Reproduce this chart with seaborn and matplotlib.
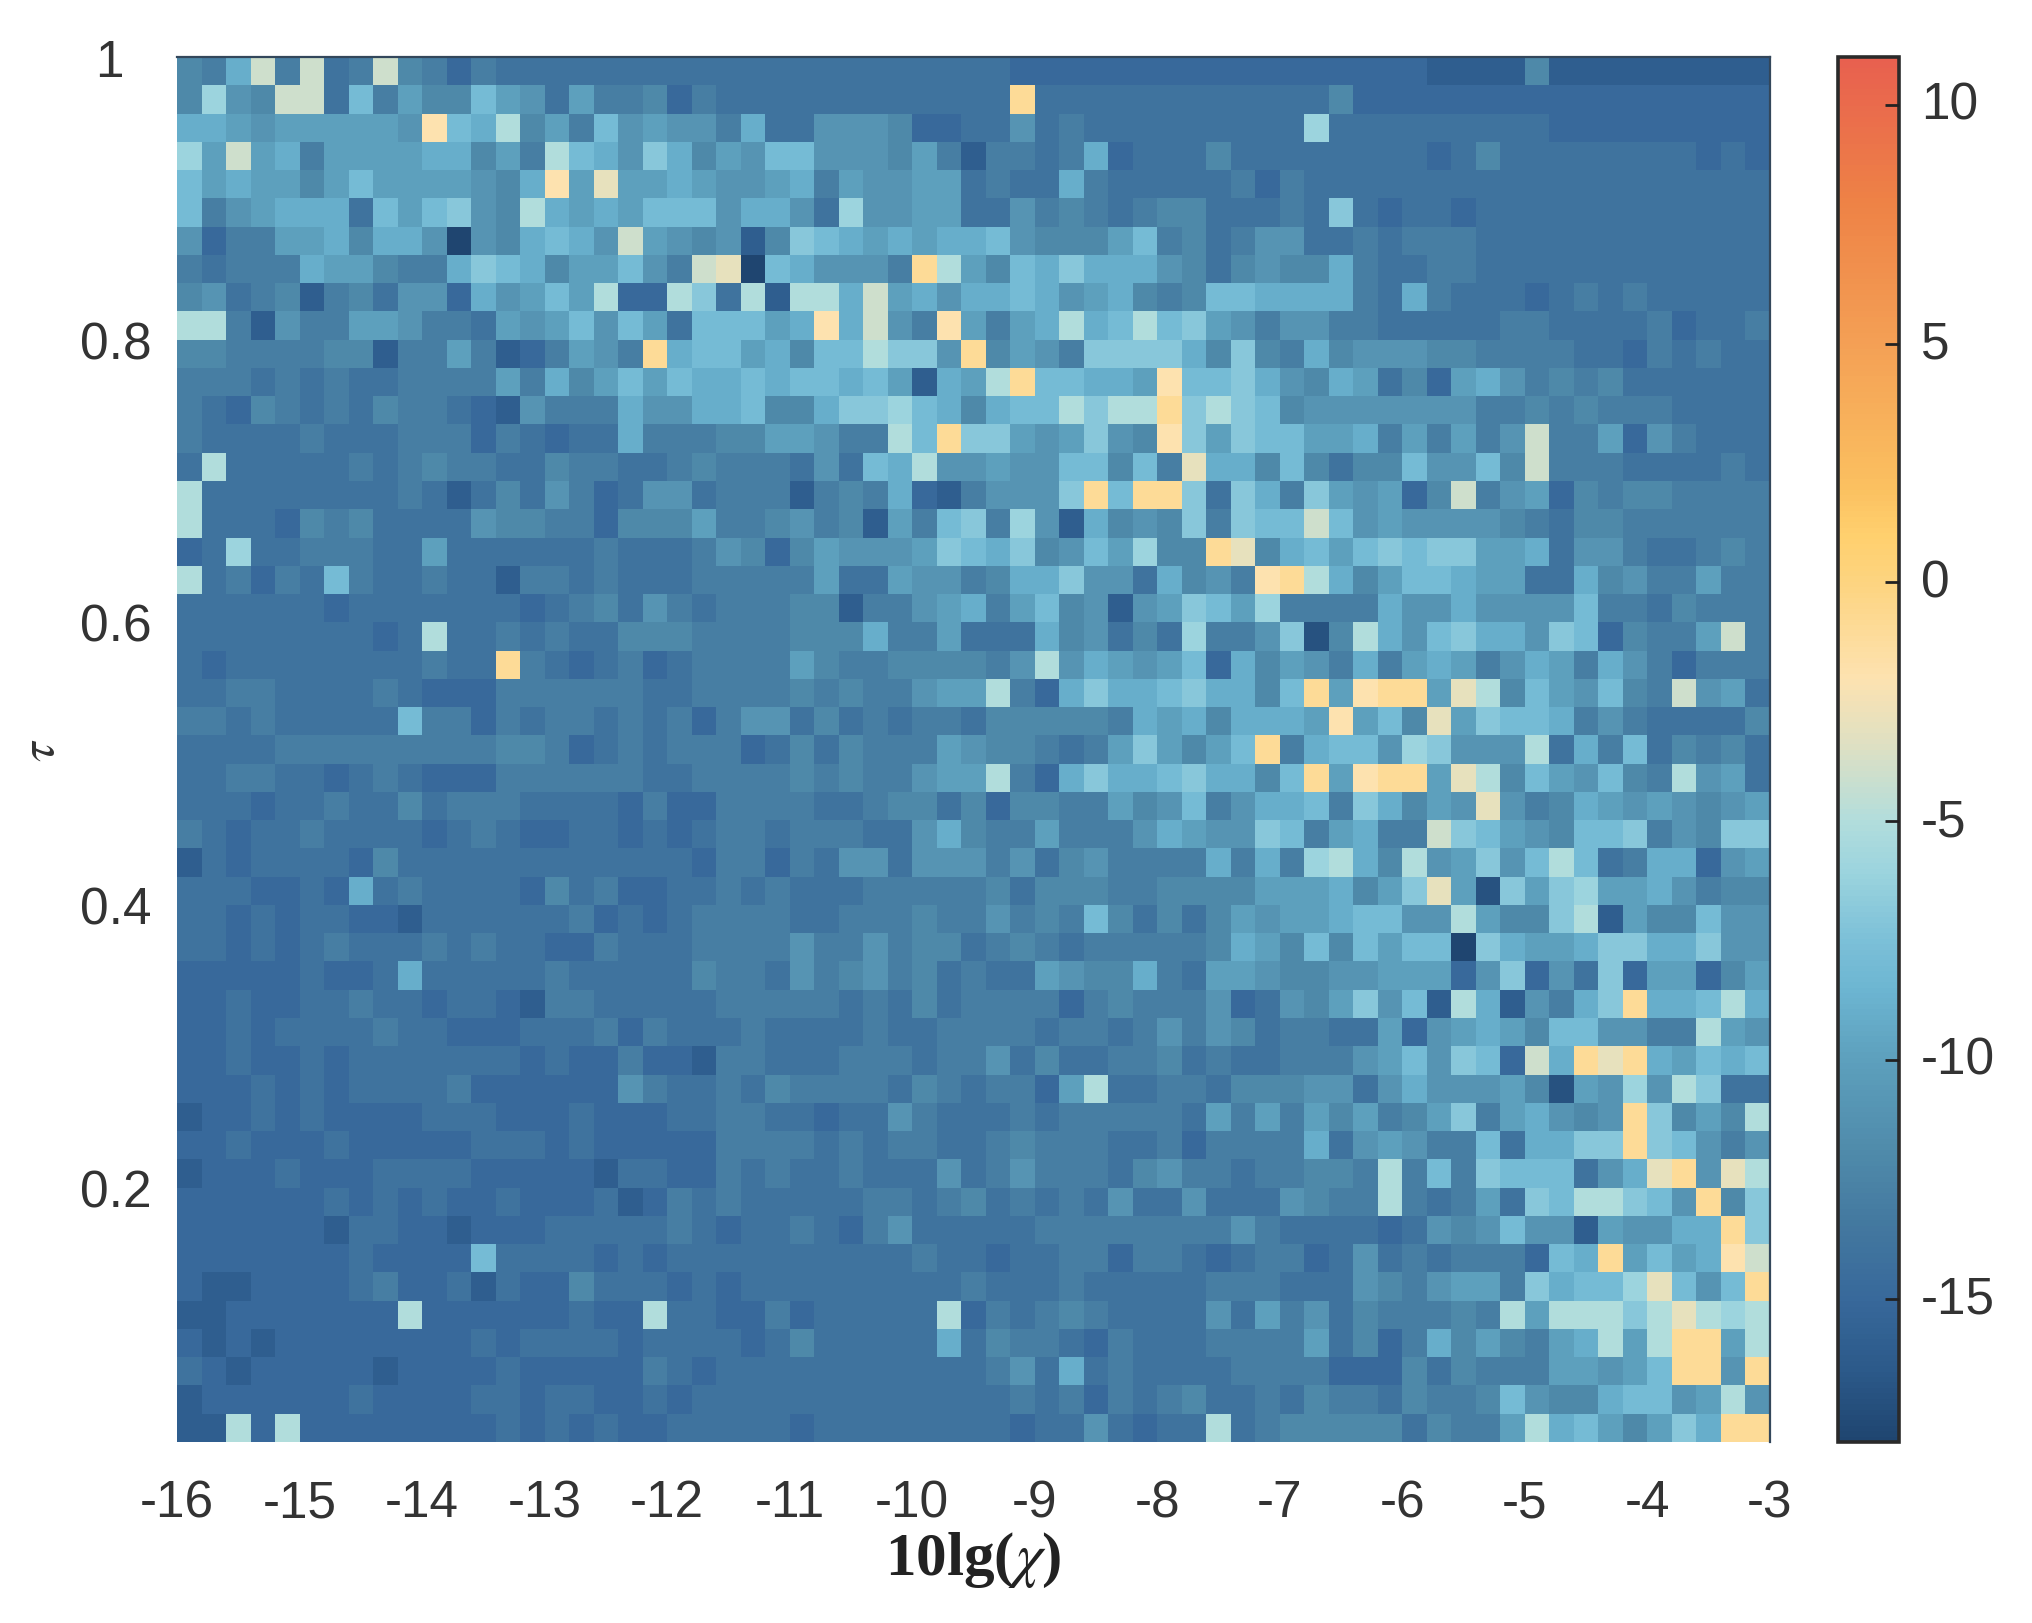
import numpy as np
import pandas as pd
import matplotlib
matplotlib.use("Agg")
import matplotlib.pyplot as plt
from matplotlib.colors import LinearSegmentedColormap
from matplotlib.transforms import ScaledTranslation
import seaborn as sns

# values are stored without the minus sign, every cell is below 0
# columns 0-21 (10lg(chi) from -16)
cells_left = [
[12,13,9,4,13,4,14,13,4,12,13,15,13,14,14,14,14,14,14,14,14,14],
[12,6,11,12,4,4,14,8,13,10,12,12,8,10,11,14,10,13,13,12,15,13],
[9,9,10,11,10,10,10,10,10,11,2,8,9,5,12,10,13,8,11,10,11,11],
[6,10,4,10,9,13,10,10,10,10,9,9,12,10,13,5,8,9,11,7,9,12],
[8,10,9,10,10,12,10,8,10,10,10,10,11,12,9,2,10,3,10,10,9,10],
[8,13,11,10,9,9,9,14,8,10,8,7,11,12,5,9,10,9,10,8,8,8],
[11,15,13,13,10,10,9,12,9,9,11,18,11,12,9,8,9,11,4,10,11,12],
[13,14,13,13,13,9,10,10,12,13,13,9,7,8,9,12,10,10,8,11,13,4],
[12,11,14,13,12,16,13,12,14,11,11,15,9,11,10,8,10,5,15,15,5,7],
[5,5,13,16,11,13,13,10,10,11,13,13,14,10,11,10,8,11,8,10,14,8],
[12,12,13,13,13,13,12,12,16,13,13,10,13,16,15,13,10,11,13,1,9,8],
[13,13,13,14,13,14,13,14,14,13,13,13,13,10,13,9,12,10,8,10,8,9],
[13,14,15,12,13,14,13,14,12,13,13,14,15,16,11,13,13,13,9,11,11,9],
[13,14,14,14,14,13,14,14,14,13,13,13,15,13,14,15,14,14,9,13,13,13],
[14,5,14,14,14,14,14,13,14,13,12,13,13,14,14,12,13,13,14,14,13,12],
[5,14,14,14,14,14,14,14,14,13,14,16,14,12,14,11,13,15,14,11,11,14],
[5,14,14,14,15,12,13,12,14,14,14,14,11,12,12,13,13,15,12,12,12,10],
[15,14,6,14,14,13,13,13,14,14,10,14,14,14,14,14,14,13,14,14,14,13],
[5,14,13,15,13,14,8,13,14,14,13,14,14,16,13,13,14,13,14,14,14,13],
[14,14,14,14,14,14,15,14,14,14,14,14,14,14,15,14,13,12,14,11,13,14],
[14,14,14,14,14,14,14,14,15,14,5,14,14,13,14,13,14,14,12,12,12,13],
[14,15,14,14,14,14,14,14,14,14,13,14,14,1,13,14,15,14,13,15,14,13],
[14,14,13,13,14,14,14,14,13,14,15,15,15,13,13,13,13,13,13,14,14,13],
[13,13,14,13,14,14,14,14,14,8,13,13,15,13,14,13,13,14,13,14,13,15],
[14,14,14,14,13,13,13,13,13,13,13,13,13,12,12,13,15,14,13,14,13,13],
[14,14,13,13,14,14,15,14,13,14,15,15,15,13,13,13,13,13,13,14,14,13],
[14,14,14,15,14,14,13,14,14,12,14,13,13,13,14,14,14,14,15,13,15,15],
[13,14,15,14,14,13,14,14,14,14,15,14,13,14,15,15,14,14,15,14,15,14],
[16,14,15,14,14,14,14,15,12,14,14,14,14,14,14,14,14,14,14,14,14,15],
[14,14,14,15,15,14,15,9,14,13,14,14,14,14,15,12,14,13,15,15,14,14],
[14,14,15,14,15,14,14,15,15,16,14,14,14,14,14,14,13,15,14,15,14,13],
[14,14,15,14,15,14,13,14,14,14,13,14,13,14,14,15,15,13,14,14,14,13],
[15,15,15,15,15,14,15,15,14,9,14,14,14,14,14,13,14,14,14,14,14,12],
[15,15,14,15,15,14,14,13,14,14,15,14,14,15,16,13,13,14,14,14,14,14],
[15,15,14,15,14,14,14,14,13,14,14,15,15,15,14,14,14,13,15,13,14,14],
[15,15,14,15,15,14,15,14,14,14,14,14,14,14,15,14,15,15,13,15,15,16],
[15,15,15,14,15,14,15,14,14,14,14,13,15,15,15,15,15,15,11,13,14,14],
[16,15,15,14,15,14,15,15,15,15,14,14,14,15,15,15,14,15,15,15,14,14],
[15,15,14,15,15,15,14,15,15,15,15,15,14,14,14,15,14,15,15,15,15,15],
[16,15,15,15,14,15,15,15,14,14,14,14,15,15,15,15,15,16,14,14,15,15],
[15,15,15,15,15,15,14,15,14,15,14,15,15,14,15,15,15,14,16,15,13,14],
[15,15,15,15,15,15,16,14,14,15,15,16,15,15,15,14,14,14,14,14,13,14],
[15,15,15,15,15,15,15,14,15,15,15,15,8,14,14,14,14,15,14,15,14,14],
[15,16,16,15,15,15,15,14,13,15,15,14,16,14,15,15,12,14,14,14,15,14],
[16,16,15,15,15,15,15,15,15,5,15,15,15,15,15,15,14,15,15,5,14,14],
[15,16,15,16,15,15,15,15,15,15,15,15,14,15,14,14,14,14,15,14,14,14],
[14,15,16,15,15,15,15,15,16,15,15,15,15,14,15,15,15,15,15,13,14,15],
[16,15,15,15,15,15,15,14,15,15,15,15,14,14,15,14,14,15,15,14,15,14],
[16,16,5,15,5,15,15,15,15,15,15,15,15,14,15,14,15,14,15,15,14,14],
]

# columns 22-43
cells_mid = [
[14,14,14,14,14,14,14,14,14,14,14,14,15,15,15,15,15,15,15,15,15,15],
[14,14,14,14,14,14,14,14,14,14,14,14,1,14,14,14,14,14,14,14,14,14],
[13,9,14,14,11,11,11,12,15,15,14,14,11,14,13,14,14,14,14,14,14,14],
[10,11,8,8,11,11,11,12,10,13,16,13,13,14,13,9,15,14,14,14,12,14],
[11,11,10,9,13,10,11,11,10,10,14,13,14,14,9,13,14,14,14,14,14,13],
[11,9,9,11,14,6,11,11,10,10,14,14,11,13,12,13,14,13,12,12,14,14],
[11,16,12,7,8,9,10,9,10,9,9,8,11,12,12,12,10,8,13,12,14,13],
[3,18,8,9,11,11,11,13,1,5,10,12,8,9,7,9,9,9,11,12,14,12],
[14,5,16,5,5,9,4,10,9,11,9,9,8,9,11,10,9,12,13,12,8,8],
[8,8,10,9,2,9,4,11,13,2,10,13,10,9,5,9,8,5,8,7,10,11],
[8,10,9,12,8,8,5,7,7,11,1,12,10,11,13,7,7,7,7,9,12,7],
[9,8,9,8,8,9,8,10,16,9,10,5,1,8,8,9,9,10,2,8,8,7],
[9,8,12,12,9,7,7,6,8,9,12,9,8,8,5,7,5,5,1,7,5,7],
[12,12,10,10,11,13,13,5,8,1,7,7,10,11,10,7,11,12,2,7,10,7],
[13,13,13,14,11,14,8,9,5,11,11,10,11,11,8,8,12,8,13,3,9,9],
[13,13,13,16,13,12,13,9,15,16,13,11,11,11,7,1,8,1,1,7,14,7],
[13,13,12,11,13,12,16,10,13,8,7,13,6,11,16,9,12,11,12,7,13,7],
[11,12,15,12,10,11,11,11,10,7,8,9,7,12,11,8,10,6,12,12,1,3],
[13,13,13,13,10,14,14,10,11,11,13,12,9,9,7,11,11,14,9,12,11,13],
[13,13,13,12,12,16,13,13,11,10,9,13,10,8,12,11,16,11,10,7,8,10],
[13,13,13,12,12,12,9,13,13,10,14,14,14,9,12,11,14,12,14,6,13,13],
[13,13,13,10,12,13,13,12,12,12,12,13,11,5,11,9,10,11,10,8,15,9],
[13,13,13,12,13,12,13,13,11,10,10,5,13,15,9,7,9,9,8,7,9,9],
[13,11,11,14,12,14,13,14,13,13,14,12,12,12,12,12,13,9,10,9,12,9],
[13,15,14,12,14,12,13,13,13,10,11,12,12,13,14,13,10,7,10,12,10,8],
[13,13,13,12,13,12,13,13,11,10,10,5,13,15,9,7,9,9,8,7,9,9],
[13,13,13,13,14,14,13,12,12,14,12,15,12,12,13,13,10,12,11,8,13,11],
[13,13,14,13,13,13,14,14,11,9,12,13,13,10,13,13,13,11,9,10,11,11],
[13,13,15,13,14,11,11,14,11,11,11,13,11,14,12,11,13,13,13,13,9,13],
[13,14,13,14,14,14,13,13,13,13,13,12,14,12,12,12,13,13,12,12,12,12],
[13,13,13,14,14,13,13,13,12,13,13,11,13,12,13,8,12,14,12,14,12,10],
[13,13,13,11,13,13,11,13,12,12,14,13,12,13,14,13,13,13,13,13,12,9],
[13,13,14,11,13,12,11,13,12,14,13,14,14,10,11,12,12,9,13,14,10,10],
[13,13,13,13,13,14,13,14,12,14,13,13,13,13,15,13,12,13,13,13,11,15],
[14,13,14,14,14,14,13,14,14,13,13,13,13,14,13,13,14,13,11,13,11,12],
[13,13,14,14,14,13,13,13,14,13,13,11,14,12,14,14,13,13,12,14,13,14],
[13,14,12,13,13,13,13,14,12,13,14,13,13,15,10,5,14,14,13,13,14,12],
[13,13,14,14,15,14,14,11,13,14,14,14,13,14,13,13,13,13,13,14,10,13],
[13,13,13,13,14,13,14,13,13,14,14,13,12,13,13,13,14,14,13,15,13,13],
[13,14,13,14,14,13,14,14,14,11,14,13,11,13,13,13,14,12,11,13,13,14],
[13,14,14,14,14,14,13,13,14,13,12,14,13,14,13,14,11,14,14,11,14,14],
[15,14,14,13,14,15,13,11,14,14,14,14,14,13,13,13,13,13,13,13,13,11],
[14,14,14,14,14,14,14,14,13,14,14,15,14,14,13,13,15,13,13,14,15,14],
[15,14,14,14,14,14,14,14,14,14,13,14,14,14,13,14,14,14,14,14,13,13],
[15,15,13,15,14,14,14,14,14,5,15,13,14,13,12,13,14,14,14,14,11,14],
[14,15,14,12,14,14,14,14,14,9,14,12,13,13,14,15,13,14,14,14,13,13],
[14,14,14,14,14,14,14,14,14,14,14,13,11,14,9,14,13,14,14,14,14,13],
[14,14,14,14,14,14,14,14,14,14,14,14,13,14,13,15,13,14,13,12,14,14],
[14,14,14,15,14,14,14,14,14,14,14,14,15,14,14,11,14,15,14,14,5,14],
]

# columns 44-64 (up to -3)
cells_right = [
[15,15,15,15,15,15,15,16,16,16,16,12,16,16,16,16,16,16,16,16,16],
[14,14,14,12,15,15,15,15,15,15,15,15,15,15,15,15,15,15,15,15,15],
[14,14,6,14,14,14,14,14,14,14,14,14,15,15,15,15,15,15,15,15,15],
[14,14,14,14,14,14,14,15,14,12,14,14,14,14,14,14,14,14,15,14,15],
[15,13,14,14,14,14,14,14,14,14,14,14,14,14,14,14,14,14,14,14,14],
[14,13,14,7,14,15,14,14,15,14,14,14,14,14,14,14,14,14,14,14,14],
[11,11,14,14,13,14,13,13,13,14,14,14,14,14,14,14,14,14,14,14,14],
[11,12,12,9,13,14,14,13,13,14,14,14,14,14,14,14,14,14,14,14,14],
[9,9,9,9,13,14,9,13,14,14,14,15,14,13,14,13,14,14,14,14,14],
[13,11,11,13,13,14,14,14,14,14,13,13,14,14,14,14,13,15,14,14,13],
[12,13,9,12,11,11,11,12,12,13,13,13,13,14,14,15,13,14,13,14,14],
[9,11,12,9,10,14,12,15,10,9,11,13,12,13,12,14,14,14,14,14,14],
[8,12,11,11,11,11,11,11,11,13,13,12,13,12,13,13,13,14,14,14,14],
[8,8,10,10,9,13,10,13,10,13,11,4,13,13,10,15,11,13,14,14,14],
[12,8,12,14,12,12,8,11,11,8,12,4,13,13,13,14,14,14,14,13,14],
[9,13,7,10,11,10,15,12,4,13,11,10,15,12,13,12,12,13,13,13,13],
[8,8,4,8,11,10,11,11,11,11,12,13,14,12,12,13,13,13,13,13,13],
[12,9,8,10,8,7,8,7,7,10,10,9,14,11,11,13,14,14,13,12,13],
[2,1,5,9,12,10,8,8,9,10,10,14,14,9,12,11,13,13,10,13,13],
[6,13,13,13,13,9,11,11,9,11,11,11,11,8,13,13,14,12,13,13,13],
[11,7,17,12,5,9,11,8,7,9,9,11,7,8,15,12,13,13,10,4,13],
[12,10,11,13,9,13,10,9,10,13,11,9,10,13,9,11,13,15,13,13,13],
[12,8,1,10,2,1,1,10,3,5,12,8,10,11,8,12,13,4,11,10,14],
[9,9,10,2,10,8,12,3,10,7,8,8,9,13,11,13,14,14,14,14,12],
[1,13,9,8,8,11,6,7,11,11,11,5,14,9,13,8,14,12,13,12,14],
[12,8,1,10,2,1,1,10,3,5,12,8,10,11,8,12,13,5,11,10,14],
[9,9,8,13,7,9,12,10,11,3,11,13,12,9,10,11,10,11,12,11,10],
[7,8,13,10,9,13,13,4,7,8,10,11,12,8,8,7,13,11,12,7,7],
[9,13,6,5,9,12,5,11,10,7,11,8,5,8,14,13,9,9,15,11,10],
[10,10,10,9,12,10,7,3,10,17,7,10,7,6,10,10,9,11,13,12,12],
[11,10,10,9,8,8,11,11,5,10,12,12,7,5,16,10,12,12,8,11,11],
[10,12,8,12,8,10,8,8,18,7,9,10,10,9,7,7,9,9,7,11,11],
[11,12,12,11,11,10,10,10,15,11,7,15,11,14,7,15,10,10,15,12,10],
[14,11,12,10,7,11,8,16,5,9,16,11,13,9,7,1,9,9,8,5,9],
[14,13,13,14,14,10,15,11,10,9,10,12,8,8,11,11,13,13,5,10,11],
[14,13,13,13,11,10,8,11,7,8,15,4,9,1,3,1,9,10,8,9,8],
[12,12,11,11,14,11,9,11,11,11,10,12,17,10,11,6,11,5,7,14,14],
[10,13,10,12,10,13,12,10,7,13,10,9,11,12,11,1,7,12,10,12,5],
[13,13,9,14,11,10,11,13,13,8,14,9,9,7,7,1,7,8,11,13,11],
[13,13,12,12,13,5,13,8,13,7,8,8,8,14,11,9,3,1,11,3,5],
[14,11,12,13,13,5,13,14,13,10,14,7,8,5,5,7,8,11,1,12,7],
[13,14,14,14,14,15,14,11,12,11,8,11,11,16,10,11,11,9,9,1,7],
[13,13,15,14,11,14,13,14,13,13,13,15,8,9,1,10,8,10,9,2,4],
[13,14,14,14,11,12,13,11,10,10,13,7,9,8,8,6,3,8,11,8,1],
[10,13,11,14,12,13,13,13,12,13,5,10,5,5,5,7,5,3,5,6,5],
[13,13,10,14,12,15,13,9,12,10,12,13,10,9,5,10,5,1,1,10,5],
[13,13,13,15,15,15,12,14,12,13,13,13,10,10,11,10,8,1,1,11,1],
[13,14,12,13,13,14,12,13,13,12,8,11,12,12,9,8,8,11,10,5,11],
[13,12,12,12,12,12,14,12,13,13,10,5,9,8,10,12,10,7,9,1,1],
]

x_tick_labels = [-16, -15, -14, -13, -12, -11, -10, -9, -8, -7, -6, -5, -4, -3]
y_tick_labels = ["1", "0.8", "0.6", "0.4", "0.2"]
cbar_ticks = [-15, -10, -5, 0, 5, 10]
color_vmin = -18
color_vmax = 11
color_stops = [-18, -16.5, -15, -13.5, -12, -10, -8.5, -7.5, -6, -5, -3.5, -2, 0, 1, 2, 5, 8, 11]
color_hex = ["#1f4570", "#2c5a8a", "#38699b", "#43789f", "#4f8aaa", "#5da0bd", "#6db6d2", "#7cc0d8",
             "#9dd5de", "#b2dddc", "#dce0c4", "#fde2b0", "#fdd480", "#ffd06e", "#fbc060", "#f4a055",
             "#ee8246", "#e8604f"]

for name, block, n in [("left", cells_left, 22), ("mid", cells_mid, 22), ("right", cells_right, 21)]:
    bad = [i for i, r in enumerate(block) if len(r) != n]
    if bad or len(block) != 49:
        raise ValueError(f"{name}: {len(block)} rows, bad rows {bad}")

values = -np.hstack([np.array(cells_left), np.array(cells_mid), np.array(cells_right)], dtype=float)
df = pd.DataFrame(values)

sns.set_theme(style="white")
plt.rcParams["font.family"] = ["Liberation Sans", "DejaVu Sans"]
plt.rcParams["axes.unicode_minus"] = False
plt.rcParams["mathtext.fontset"] = "stix"

pos = [(s - color_vmin) / (color_vmax - color_vmin) for s in color_stops]
cmap = LinearSegmentedColormap.from_list("snr", list(zip(pos, color_hex)), N=256)

W, H = 2033, 1624
fig = plt.figure(figsize=(W / 100, H / 100), dpi=100)
ax = fig.add_axes([177 / W, 1 - 1443 / H, 1593 / W, 1385 / H])
cax = fig.add_axes([1838 / W, 1 - 1443 / H, 61 / W, 1385 / H])

sns.heatmap(df, vmin=color_vmin, vmax=color_vmax, cmap=cmap, ax=ax, cbar_ax=cax, square=False)

# 0.2 per column, 0.02 per row
ax.set_xticks([(v - x_tick_labels[0]) / 0.2 for v in x_tick_labels])
ax.set_xticklabels([str(v) for v in x_tick_labels], rotation=0, fontsize=37, color="#333333")
ax.set_yticks([(1 - float(v)) / 0.02 for v in y_tick_labels])
ax.set_yticklabels(y_tick_labels, rotation=0, fontsize=37, color="#333333")
ax.tick_params(axis="y", length=0, pad=18)
ax.tick_params(axis="x", length=0, pad=26)

for side in ["top", "right"]:
    ax.spines[side].set_visible(True)
    ax.spines[side].set_color("#33475b")
    ax.spines[side].set_linewidth(1.6)

ax.set_xlabel(r"10lg($\chi$)", fontsize=44, fontweight="bold", family="Liberation Serif", color="#222222", labelpad=2)
ax.set_ylabel(r"$\tau$", fontsize=36, color="#333333", labelpad=12)

cbar = ax.collections[0].colorbar
cbar.set_ticks(cbar_ticks)
cbar.set_ticklabels([str(v) for v in cbar_ticks])
# seaborn's style puts ticks under the colour strip otherwise
cax.set_axisbelow(False)
cax.yaxis.set_ticks_position("right")
cax.tick_params(axis="y", which="major", direction="in", length=10, width=2, color="#222222",
                labelsize=37, labelcolor="#333333", pad=16, right=True, left=False)
cbar.outline.set_visible(True)
cbar.outline.set_edgecolor("#2a2a2a")
cbar.outline.set_linewidth(2.6)

# labels sit a few px off the cell centres in the reference, the "1" stands further left
for lab in ax.get_yticklabels():
    dx = -28 / 100 if lab.get_text() == "1" else 0
    lab.set_transform(lab.get_transform() + ScaledTranslation(dx, -5 / 100, fig.dpi_scale_trans))
for lab in cax.get_yticklabels():
    lab.set_transform(lab.get_transform() + ScaledTranslation(0, 5 / 100, fig.dpi_scale_trans))

fig.savefig("out.png", dpi=100, facecolor="white")
